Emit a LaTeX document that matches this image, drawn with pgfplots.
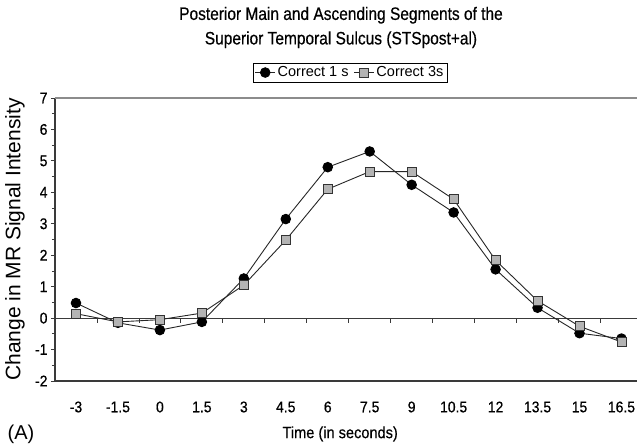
\documentclass[border=0pt]{standalone}
\usepackage{pgfplots}
\pgfplotsset{compat=1.18}
\usepackage{fontspec}
\setmainfont{Liberation Sans}
\newfontfamily\narrow{Liberation Sans}[FakeStretch=0.9, FakeBold=0.5]
\newfontfamily\titlefont{Liberation Sans}[FakeStretch=0.86, FakeBold=0.5]
\definecolor{axiscol}{HTML}{3A3A3A}
\definecolor{topcol}{HTML}{8C8C8C}
\definecolor{sqfill}{HTML}{B4B4B4}

\begin{document}
\begin{tikzpicture}[x=1pt,y=1pt]
\useasboundingbox (0,0) rectangle (637,445);
\begin{axis}[
  at={(55pt,64pt)}, anchor=south west,
  scale only axis, width=582pt, height=283pt,
  xmin=-0.5, xmax=13.37, ymin=-2, ymax=7,
  axis x line=bottom, axis y line=left,
  axis line style={axiscol, line width=1.1pt, -},
  clip=false,
  xtick={0,...,13},
  xticklabels={-3,-1.5,0,1.5,3,4.5,6,7.5,9,10.5,12,13.5,15,16.5},
  x tick style={draw=none},
  xticklabel style={anchor=center, yshift=-22pt},
  ytick={-2,...,7},
  minor ytick={-1.5,-0.5,...,6.5},
  y tick style={axiscol, line width=0.8pt},
  tick align=outside,
  major tick length=4pt, minor tick length=3pt,
  tick label style={font=\narrow\fontsize{15.5}{17}\selectfont},
  /pgf/number format/assume math mode=true,
  ylabel={Change in MR Signal Intensity},
  ylabel style={at={(axis description cs:-0.069,0.5)}, anchor=center, rotate=0,
    font=\fontsize{21}{23}\selectfont},
  xlabel={Time (in seconds)},
  xlabel style={at={(axis description cs:0.49,-0.187)}, anchor=center,
    font=\narrow\fontsize{16.2}{18}\selectfont},
  legend columns=2,
  legend style={at={(axis description cs:0.507,1.09)}, anchor=center,
    draw=black, line width=0.6pt, inner sep=1.5pt,
    font=\fontsize{14.5}{16}\selectfont,
    /tikz/every even column/.append style={column sep=3pt}},
  legend image code/.code={
    \draw[#1] (0pt,0pt) -- (20pt,0pt);
    \draw[#1, only marks] plot coordinates {(10pt,0pt)};
  },
]
% baseline at zero with category ticks
\draw[axiscol, line width=1.1pt] (axis cs:-0.5,0) -- (axis cs:13.37,0);
\pgfplotsinvokeforeach{0.5,1.5,...,12.5}{
  \draw[axiscol, line width=0.8pt] (axis cs:#1,0) -- ++(0pt,-4.5pt);
}
\addplot[black!85, line width=0.9pt, mark=*, mark size=4.8pt,
  mark options={fill=black, draw=black}]
  coordinates {
  (0,0.48) (1,-0.15) (2,-0.38) (3,-0.12) (4,1.26) (5,3.15) (6,4.80)
  (7,5.30) (8,4.24) (9,3.36) (10,1.55) (11,0.33) (12,-0.48) (13,-0.65)};
\addlegendentry{Correct 1 s}
\addplot[black!85, line width=0.9pt, mark=square*, mark size=4.5pt,
  mark options={fill=sqfill, draw=black!80, line width=0.8pt}]
  coordinates {
  (0,0.14) (1,-0.12) (2,-0.05) (3,0.16) (4,1.05) (5,2.48) (6,4.10)
  (7,4.66) (8,4.66) (9,3.78) (10,1.84) (11,0.55) (12,-0.26) (13,-0.76)};
\addlegendentry{Correct 3s}
% top frame line
\draw[topcol, line width=1.4pt] (rel axis cs:0,1) -- (rel axis cs:1,1);
\end{axis}
\node[align=center, font=\titlefont\fontsize{18}{24.5}\selectfont] at (341,417.5)
  {Posterior Main and Ascending Segments of the\\Superior Temporal Sulcus (STSpost+al)};
\node[font=\fontsize{20}{22}\selectfont] at (21,11) {(A)};
\end{tikzpicture}
\end{document}
